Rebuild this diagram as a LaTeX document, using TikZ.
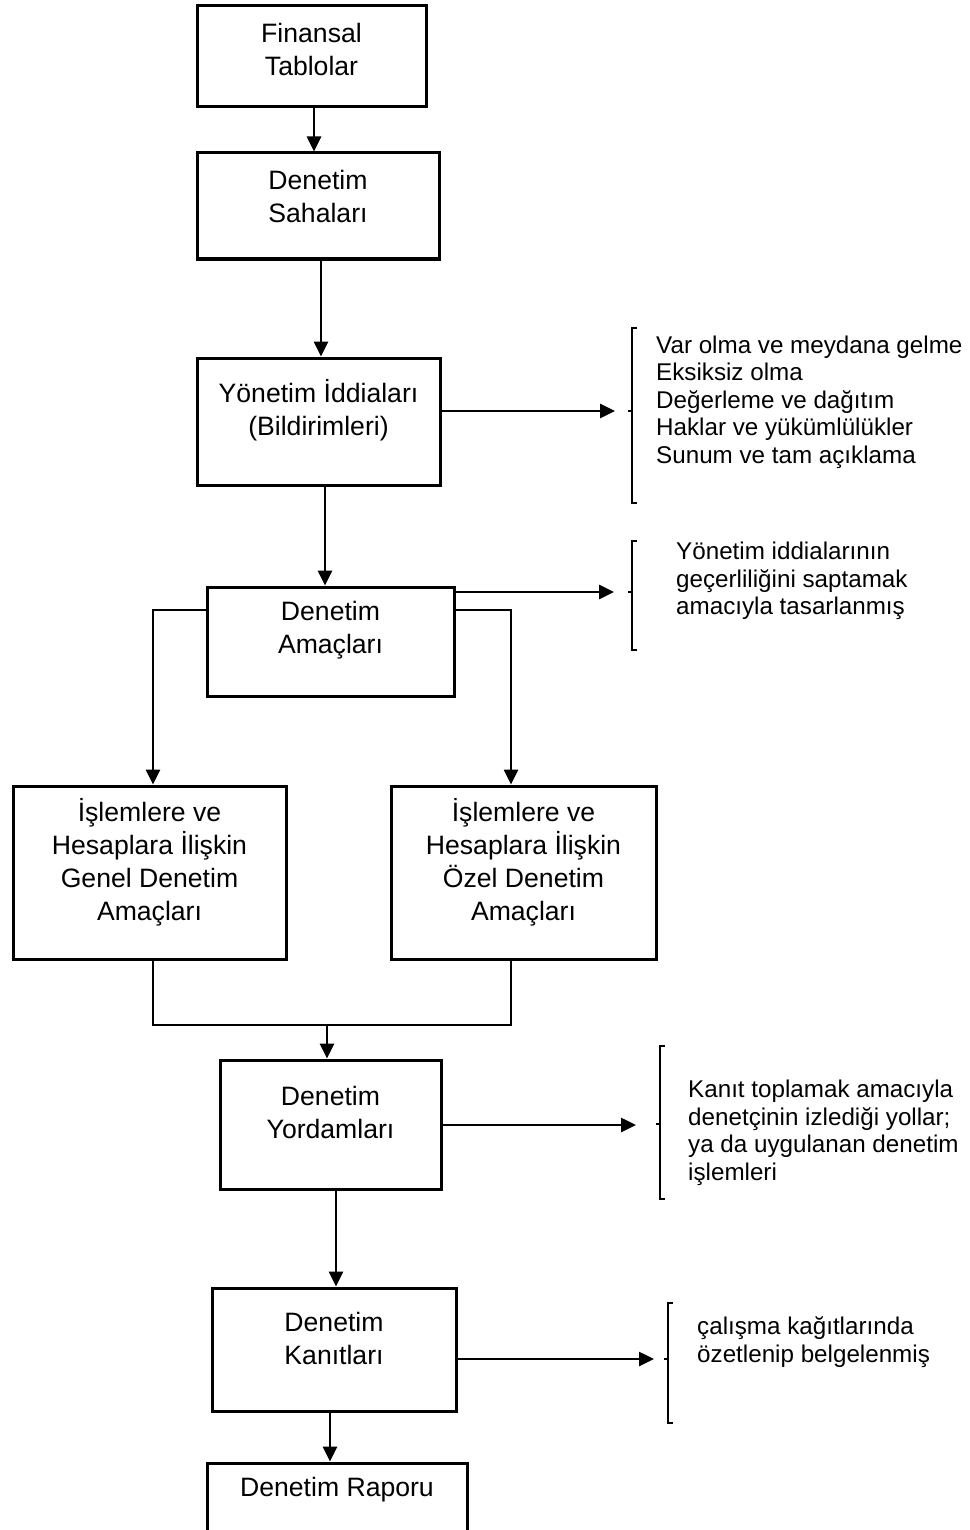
\documentclass[tikz,border=0pt]{standalone}
\usepackage{fontspec}
\setmainfont{Liberation Sans}
\usetikzlibrary{arrows.meta}

\tikzset{
  kutu/.style={draw, rectangle, line width=3pt, inner sep=0pt},
  yazi/.style={align=center, inner sep=0pt, font=\fontsize{26.6}{33}\selectfont},
  aciklama/.style={align=left, anchor=west, inner sep=0pt, font=\fontsize{24.2}{27.5}\selectfont},
  ok/.style={-{Triangle[length=15pt,width=14pt]}, line width=2.6pt},
  ince/.style={line width=1.5pt},
  parantez/.style={line width=1.4pt}
}

\begin{document}
\begin{tikzpicture}[x=1pt, y=-1pt, line cap=butt, line join=miter]

\useasboundingbox (0,0) rectangle (969,1530);

\def\serif{5}
\def\tick{4}

% Boxes of the chain

\node[kutu, minimum width=229pt, minimum height=101pt] (ft) at (311.5,56.5) {};
\node[yazi] (ft-y) at (311.5,49) {Finansal\\Tablolar};

\node[kutu, minimum width=242pt, minimum height=106pt] (ds) at (318,206) {};
\node[yazi] (ds-y) at (318,196.5) {Denetim\\Sahaları};

\node[kutu, minimum width=243pt, minimum height=127pt] (yi) at (318.5,421.5) {};
\node[yazi] (yi-y) at (318.5,410.5) {Yönetim İddiaları\\(Bildirimleri)};

\node[kutu, minimum width=247pt, minimum height=109pt] (da) at (330.5,641.5) {};
\node[yazi] (da-y) at (330.5,630.5) {Denetim\\Amaçları};

\node[kutu, minimum width=273pt, minimum height=173pt] (gen) at (149.5,872.5) {};
\node[yazi] (gen-y) at (149.5,862) {İşlemlere ve\\Hesaplara İlişkin\\Genel Denetim\\Amaçları};

\node[kutu, minimum width=265pt, minimum height=173pt] (oz) at (523.5,872.5) {};
\node[yazi] (oz-y) at (523.5,862) {İşlemlere ve\\Hesaplara İlişkin\\Özel Denetim\\Amaçları};

\node[kutu, minimum width=221pt, minimum height=129pt] (yor) at (330.5,1124.5) {};
\node[yazi] (yor-y) at (330.5,1112.5) {Denetim\\Yordamları};

\node[kutu, minimum width=244pt, minimum height=123pt] (kan) at (334,1349.5) {};
\node[yazi] (kan-y) at (334,1338.5) {Denetim\\Kanıtları};

\node[kutu, minimum width=260pt, minimum height=70pt] (rap) at (337,1498) {};
\node[yazi] (rap-y) at (337,1490) {Denetim Raporu};


% Notes on the right

\node[aciklama] (n1) at (656,402) {Var olma ve meydana gelme\\Eksiksiz olma\\Değerleme ve dağıtım\\Haklar ve yükümlülükler\\Sunum ve tam açıklama};
\node[aciklama] (n2) at (676,581) {Yönetim iddialarının\\geçerliliğini saptamak\\amacıyla tasarlanmış};
\node[aciklama] (n3) at (688,1133) {Kanıt toplamak amacıyla\\denetçinin izlediği yollar;\\ya da uygulanan denetim\\işlemleri};
\node[aciklama] (n4) at (697,1342) {çalışma kağıtlarında\\özetlenip belgelenmiş};

\draw[parantez] (632+\serif,328) -- (632,328) -- (632,503) -- (632+\serif,503);
\draw[parantez] (632,411) -- (632-\tick,411);
\draw[parantez] (632+\serif,541) -- (632,541) -- (632,650) -- (632+\serif,650);
\draw[parantez] (632,592) -- (632-\tick,592);
\draw[parantez] (660+\serif,1046) -- (660,1046) -- (660,1199) -- (660+\serif,1199);
\draw[parantez] (660,1124) -- (660-\tick,1124);
\draw[parantez] (668+\serif,1303) -- (668,1303) -- (668,1423) -- (668+\serif,1423);
\draw[parantez] (668,1359) -- (668-\tick,1359);

\coordinate (u1) at (615,411);
\coordinate (u2) at (614,592);
\coordinate (u3) at (636,1125);
\coordinate (u4) at (654,1359);


% Arrows

\draw[ok] ([xshift=2.5pt]ft.south) -- ([xshift=2.5pt]ft.south |- ds.north);
\draw[ok] ([xshift=3pt]ds.south) -- ([xshift=3pt]ds.south |- yi.north);
\draw[ok] ([xshift=6.5pt]yi.south) -- ([xshift=6.5pt]yi.south |- da.north);

\draw[ok] (yi.east |- u1) -- (u1);
\draw[ok] (da.east |- u2) -- (u2);
\draw[ok] (yor.east |- u3) -- (u3);
\draw[ok] (kan.east |- u4) -- (u4);

\coordinate (sol) at (153,610);
\coordinate (sag) at (511,610);
\draw[ince] (da.west |- sol) -- ([xshift=-0.7pt]sol);
\draw[ince] (da.east |- sag) -- ([xshift=0.7pt]sag);
\draw[ok] (sol) -- (sol |- gen.north);
\draw[ok] (sag) -- (sag |- oz.north);

\coordinate (birles) at (327,1025);
\draw[ince] (sol |- gen.south) |- (sag |- birles) -- (sag |- oz.south);
\draw[ok] (birles) -- (birles |- yor.north);

\draw[ok] ([xshift=5.5pt]yor.south) -- ([xshift=5.5pt]yor.south |- kan.north);
\draw[ok] ([xshift=-4pt]kan.south) -- ([xshift=-4pt]kan.south |- rap.north);

\end{tikzpicture}
\end{document}
